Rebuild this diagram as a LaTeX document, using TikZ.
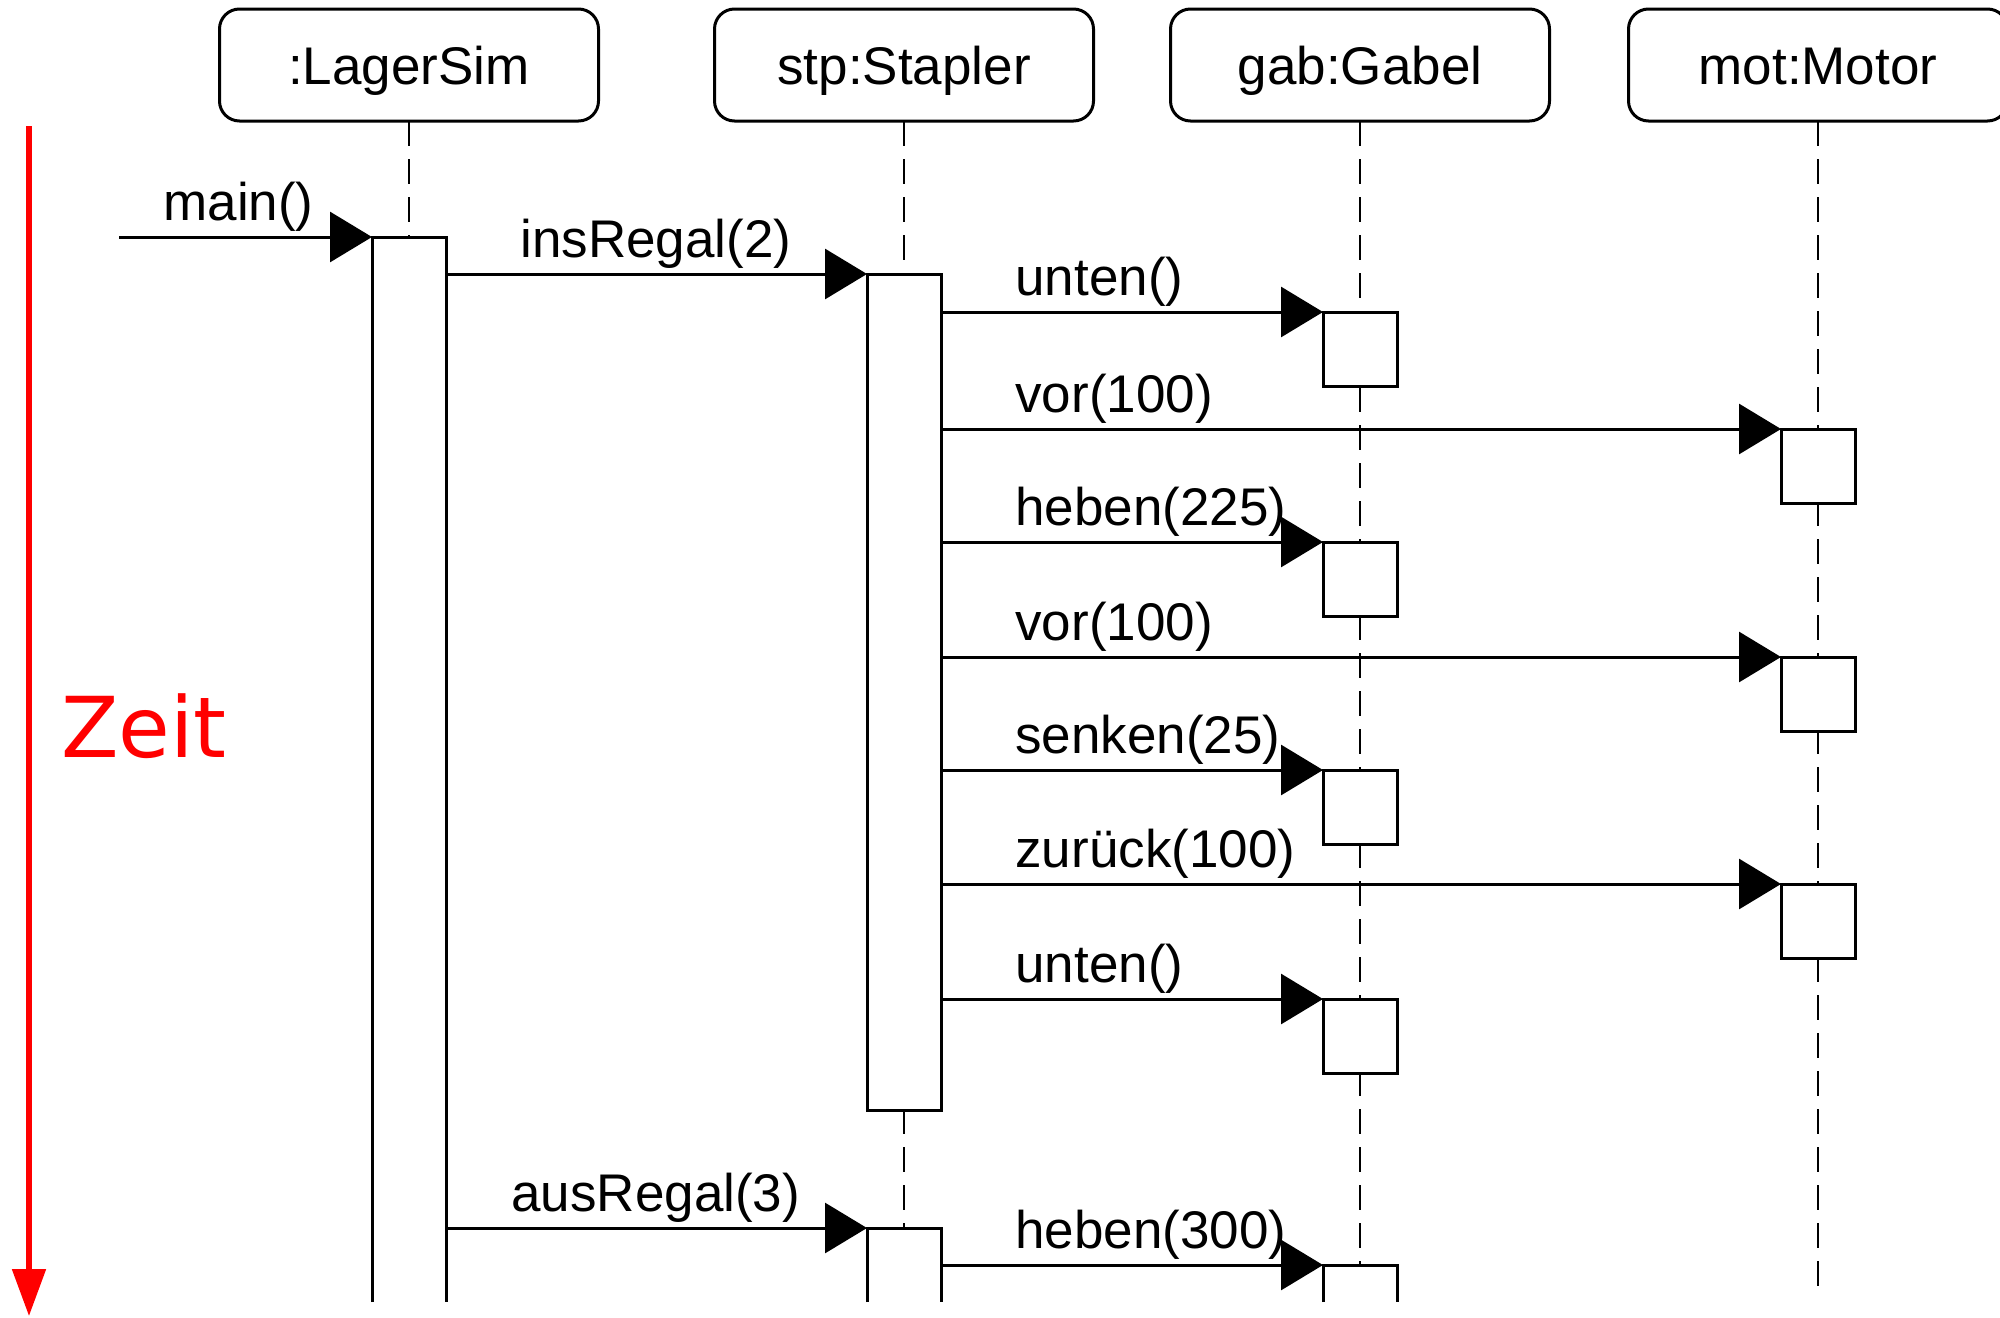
\documentclass[tikz,border=0pt]{standalone}
\usepackage{fontspec}
\setmainfont{Liberation Sans}
\newfontfamily\zeitfont{DejaVu Sans}
\usetikzlibrary{arrows.meta}
\begin{document}
\begin{tikzpicture}[x=0.5pt,y=-0.5pt,
  every node/.style={font=\fontsize{26.5}{30}\selectfont},
  header/.style={draw, line width=1.5pt, rounded corners=10pt, minimum width=189.5pt, minimum height=56pt, inner sep=0pt, outer sep=0pt, text height=19pt, text depth=0pt},
  life/.style={line width=1.1pt, dash pattern=on 12.5pt off 6.5pt},
  actbox/.style={draw, fill=white, line width=1.5pt, minimum width=37pt, minimum height=37pt, inner sep=0pt, outer sep=0pt},
  bar/.style={draw, fill=white, line width=1.5pt},
  msg/.style={line width=1.5pt, -{Triangle[length=21pt,width=25pt]}},
  lbl/.style={anchor=base west, inner sep=0pt},
  timearrow/.style={draw=red, line width=2.6pt, -{Triangle[length=23.5pt,width=16.5pt]}},
]
\clip (0,0) rectangle (2000,1317);

% headers
\node[header] (hL) at (409,65) {:LagerSim};
\node[header] (hS) at (904,65) {stp:Stapler};
\node[header] (hG) at (1360,65) {gab:Gabel};
\node[header] (hM) at (1818,65) {mot:Motor};

% lifelines
\coordinate (Lline) at (409,237);
\coordinate (Sline) at (904,1228);
\coordinate (Gline) at (1360,1265);
\coordinate (Mline) at (1818,1288);
\draw[life] (hL.south) -- (Lline);
\draw[life] (hS.south) -- (Sline);
\draw[life] (hG.south) -- (Gline);
\draw[life] (hM.south) -- (Mline);

% activation bars
\draw[bar] (372,1302) -- (372,237) coordinate (L) -- (446,237) coordinate (Lr) -- (446,1302);
\node[actbox, minimum height=418pt] (S1) at (904,692) {};
\draw[bar] (867,1302) -- (867,1228) coordinate (S2) -- (941,1228) coordinate (S2r) -- (941,1302);
\node[actbox] (G1) at (1360,349) {};
\node[actbox] (M1) at (1818,466) {};
\node[actbox] (G2) at (1360,579) {};
\node[actbox] (M2) at (1818,694) {};
\node[actbox] (G3) at (1360,807) {};
\node[actbox] (M3) at (1818,921) {};
\node[actbox] (G4) at (1360,1036) {};
\draw[bar] (1323,1302) -- (1323,1265) coordinate (G5) -- (1397,1265) -- (1397,1302);

% messages
\coordinate (start) at (119,237);
\draw[msg] (start) -- (L);
\draw[msg] (Lr |- S1.north west) -- (S1.north west);
\draw[msg] (S1.east |- G1.north west) -- (G1.north west);
\draw[msg] (S1.east |- M1.north west) -- (M1.north west);
\draw[msg] (S1.east |- G2.north west) -- (G2.north west);
\draw[msg] (S1.east |- M2.north west) -- (M2.north west);
\draw[msg] (S1.east |- G3.north west) -- (G3.north west);
\draw[msg] (S1.east |- M3.north west) -- (M3.north west);
\draw[msg] (S1.east |- G4.north west) -- (G4.north west);
\draw[msg] (Lr |- S2) -- (S2);
\draw[msg] (S2r |- G5) -- (G5);

% labels
\node[lbl] (t1) at (163,220) {main()};
\node[lbl] (t2) at (520,257) {insRegal(2)};
\node[lbl] (t3) at (1015,295) {unten()};
\node[lbl] (t4) at (1015,412) {vor(100)};
\node[lbl] (t5) at (1015,525) {heben(225)};
\node[lbl] (t6) at (1015,640) {vor(100)};
\node[lbl] (t7) at (1015,753) {senken(25)};
\node[lbl] (t8) at (1015,867) {zurück(100)};
\node[lbl] (t9) at (1015,982) {unten()};
\node[lbl] (t10) at (511,1211) {ausRegal(3)};
\node[lbl] (t11) at (1015,1248) {heben(300)};

% time axis
\coordinate (ztop) at (29,126);
\coordinate (zbot) at (29,1316);
\draw[timearrow] (ztop) -- (zbot);
\node[anchor=base west, inner sep=0pt, text=red, font=\zeitfont\fontsize{42}{50}\selectfont] (zeit) at (61,757) {Zeit};
\end{tikzpicture}
\end{document}
